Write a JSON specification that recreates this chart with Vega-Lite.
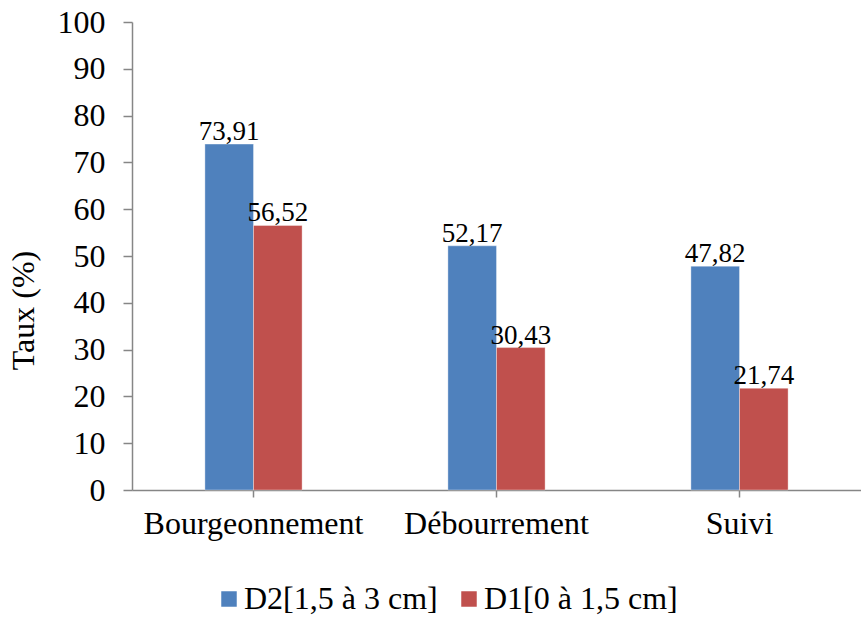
{
  "$schema": "https://vega.github.io/schema/vega-lite/v6.json",
  "width": 729,
  "height": 468,
  "autosize": {"type": "none"},
  "padding": {"left": 132, "top": 22, "right": 0, "bottom": 128},
  "background": "white",
  "config": {
    "view": {"stroke": null},
    "font": "'Liberation Serif', 'Times New Roman', serif",
    "text": {"font": "'Liberation Serif', 'Times New Roman', serif"},
    "axis": {"labelFont": "'Liberation Serif', 'Times New Roman', serif", "titleFont": "'Liberation Serif', 'Times New Roman', serif"},
    "legend": {"labelFont": "'Liberation Serif', 'Times New Roman', serif", "titleFont": "'Liberation Serif', 'Times New Roman', serif"},
    "locale": {
      "number": {"decimal": ",", "thousands": " ", "grouping": [3], "currency": ["", " €"]}
    }
  },
  "data": {
    "values": [
      {"stade": "Bourgeonnement", "classe": "D2[1,5 à 3 cm]", "taux": 73.91},
      {"stade": "Bourgeonnement", "classe": "D1[0 à 1,5 cm]", "taux": 56.52},
      {"stade": "Débourrement", "classe": "D2[1,5 à 3 cm]", "taux": 52.17},
      {"stade": "Débourrement", "classe": "D1[0 à 1,5 cm]", "taux": 30.43},
      {"stade": "Suivi", "classe": "D2[1,5 à 3 cm]", "taux": 47.82},
      {"stade": "Suivi", "classe": "D1[0 à 1,5 cm]", "taux": 21.74}
    ]
  },
  "encoding": {
    "x": {
      "field": "stade",
      "type": "nominal",
      "sort": ["Bourgeonnement", "Débourrement", "Suivi"],
      "scale": {"paddingInner": 0.2, "paddingOuter": 0.1},
      "axis": {
        "title": null,
        "labelAngle": 0,
        "labelFontSize": 32,
        "labelLimit": 400,
        "labelColor": "black",
        "labelPadding": 11,
        "domainColor": "#868686",
        "domainWidth": 1.5,
        "tickColor": "#868686",
        "tickWidth": 1.5,
        "tickSize": 7
      }
    },
    "xOffset": {
      "field": "classe",
      "type": "nominal",
      "sort": ["D2[1,5 à 3 cm]", "D1[0 à 1,5 cm]"],
      "scale": {"paddingInner": 0, "paddingOuter": 1}
    },
    "y": {
      "field": "taux",
      "type": "quantitative",
      "scale": {"domain": [0, 100], "nice": false},
      "axis": {
        "title": "Taux (%)",
        "titleFontSize": 32,
        "titleFontWeight": "normal",
        "titleColor": "black",
        "titleAngle": -90,
        "titleX": -109,
        "titleY": 288,
        "titleAlign": "center",
        "titleBaseline": "middle",
        "values": [0, 10, 20, 30, 40, 50, 60, 70, 80, 90, 100],
        "grid": false,
        "labelFontSize": 32,
        "labelColor": "black",
        "labelPadding": 18,
        "domainColor": "#868686",
        "domainWidth": 1.5,
        "tickColor": "#868686",
        "tickWidth": 1.5,
        "tickSize": 9
      }
    }
  },
  "layer": [
    {
      "mark": {"type": "bar", "stroke": "#ffffff", "strokeWidth": 1, "strokeOpacity": 0.35},
      "encoding": {
        "color": {
          "field": "classe",
          "type": "nominal",
          "scale": {
            "domain": ["D2[1,5 à 3 cm]", "D1[0 à 1,5 cm]"],
            "range": ["#4F81BD", "#C0504D"]
          },
          "legend": {
            "title": null,
            "orient": "none",
            "legendX": 81,
            "legendY": 561,
            "direction": "horizontal",
            "columns": 2,
            "symbolType": "square",
            "symbolSize": 240,
            "symbolStrokeWidth": 0,
            "labelFontSize": 32,
            "labelLimit": 400,
            "labelColor": "black",
            "labelOffset": -1,
            "columnPadding": 15
          }
        }
      }
    },
    {
      "mark": {"type": "text", "baseline": "alphabetic", "dy": -4, "fontSize": 27, "color": "black"},
      "encoding": {
        "text": {"field": "taux", "type": "quantitative", "format": ".2f"}
      }
    }
  ]
}
